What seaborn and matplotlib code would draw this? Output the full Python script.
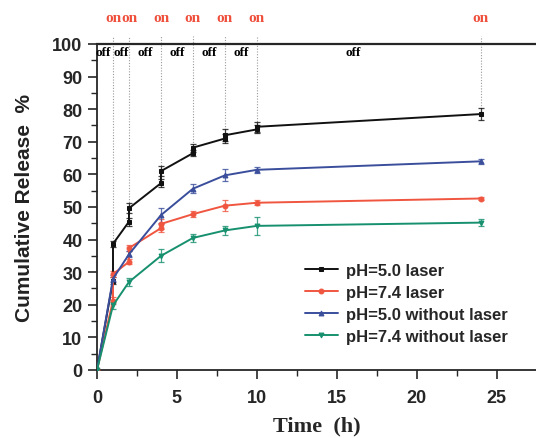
import matplotlib
matplotlib.use("Agg")
import matplotlib.pyplot as plt
import seaborn as sns
import pandas as pd
from matplotlib.ticker import MultipleLocator

sns.set_theme(style="ticks")
plt.rcParams["font.family"] = ["Liberation Sans", "DejaVu Sans"]

# Release profiles (time in h, cumulative release in %)
t_ph5_laser = [0, 1, 1, 2, 2, 4, 4, 6, 6, 8, 8, 10, 10, 24]
y_ph5_laser = [0, 27.4, 38.7, 45.5, 49.6, 57.3, 61.0, 66.5, 68.2, 71.0, 72.0, 73.8, 74.6, 78.5]
e_ph5_laser = [0, 1.0, 1.0, 1.2, 1.5, 1.2, 1.5, 1.0, 1.2, 1.5, 1.8, 1.2, 1.5, 1.8]

t_ph74_laser = [0, 1, 1, 2, 2, 4, 4, 6, 8, 10, 24]
y_ph74_laser = [0, 21.3, 29.4, 33.2, 37.4, 43.5, 44.8, 47.8, 50.4, 51.3, 52.6]
e_ph74_laser = [0, 1.0, 1.0, 0.8, 0.8, 1.2, 1.5, 1.0, 1.6, 0.8, 0.6]

t_ph5_dark = [0, 1, 2, 4, 6, 8, 10, 24]
y_ph5_dark = [0, 28.0, 35.5, 47.5, 55.6, 59.7, 61.4, 64.0]
e_ph5_dark = [0, 1.0, 1.0, 2.3, 1.3, 1.8, 1.0, 0.8]

t_ph74_dark = [0, 1, 2, 4, 6, 8, 10, 24]
y_ph74_dark = [0, 19.8, 27.0, 35.0, 40.5, 42.8, 44.2, 45.2]
e_ph74_dark = [0, 1.0, 1.3, 2.0, 1.3, 1.5, 2.8, 1.0]

labels = ["pH=5.0 laser", "pH=7.4 laser", "pH=5.0 without laser", "pH=7.4 without laser"]
colors = ["#111111", "#f0553f", "#3a4e9c", "#16906e"]
markers = ["s", "o", "^", "v"]

# Laser switching schedule
on_times = [1, 2, 4, 6, 8, 10, 24]
off_positions = [0.4, 1.5, 3, 5, 7, 9, 16]

series = [
    (t_ph5_laser, y_ph5_laser, e_ph5_laser),
    (t_ph74_laser, y_ph74_laser, e_ph74_laser),
    (t_ph5_dark, y_ph5_dark, e_ph5_dark),
    (t_ph74_dark, y_ph74_dark, e_ph74_dark),
]

fig = plt.figure(figsize=(5.36, 4.39), dpi=100)
ax = fig.add_axes([0.181, 0.155, 0.82, 0.7425])

for (t, y, e), lab, c, m in zip(series, labels, colors, markers):
    df = pd.DataFrame({"time": t, "release": y})
    sns.lineplot(data=df, x="time", y="release", estimator=None, sort=False,
                 color=c, marker=m, markersize=3.5, markeredgecolor=c,
                 linewidth=1.4, label=lab, ax=ax, zorder=3)
    ax.errorbar(t, y, yerr=e, fmt="none", ecolor=c, elinewidth=0.9,
                capsize=2.5, capthick=0.9, alpha=0.8, zorder=2)

# Dotted guides marking each laser-on moment
top_vals = {}
for tt, yy in zip(t_ph5_laser, y_ph5_laser):
    top_vals[tt] = max(top_vals.get(tt, 0), yy)
for tt in on_times:
    ax.vlines(tt, top_vals[tt], 102.5, colors="#9a9a9a", linestyles=(0, (1, 1.5)),
              linewidth=0.8, clip_on=False, zorder=1)
    ax.text(tt, 108.0, "on", color="#ee4e3a", fontsize=11, fontweight="bold",
            family="Liberation Serif", ha="center", va="center", clip_on=False)
for xo in off_positions:
    ax.text(xo, 97.6, "off", color="black", fontsize=9.5, fontweight="bold",
            family="Liberation Serif", ha="center", va="center")

ax.set_xlim(0, 27.5)
ax.set_ylim(0, 100)
ax.xaxis.set_major_locator(MultipleLocator(5))
ax.xaxis.set_minor_locator(MultipleLocator(2.5))
ax.yaxis.set_major_locator(MultipleLocator(10))
ax.yaxis.set_minor_locator(MultipleLocator(5))
ax.tick_params(which="major", direction="out", length=6.5, width=1.2,
               labelsize=13)
ax.tick_params(axis="x", which="major", pad=7)
ax.tick_params(axis="y", which="major", pad=4)
ax.tick_params(which="minor", direction="out", length=4, width=1.0)
for lbl in ax.get_xticklabels() + ax.get_yticklabels():
    lbl.set_fontweight("bold")

for side in ["left", "bottom"]:
    ax.spines[side].set_linewidth(1.3)
ax.spines["top"].set_linewidth(1.6)
ax.spines["right"].set_visible(False)

ax.set_xlabel("Time  (h)", fontsize=16, fontweight="bold", family="Liberation Serif",
              labelpad=7)
ax.set_ylabel("Cumulative Release  %", fontsize=15, fontweight="bold",
              color="#222222", labelpad=13)

leg = ax.legend(loc="lower right", bbox_to_anchor=(0.97, 0.035), frameon=False,
                prop={"weight": "bold", "size": 12}, handlelength=2.0,
                labelspacing=0.42, handletextpad=0.5)

fig.savefig("out.png", dpi=100)
